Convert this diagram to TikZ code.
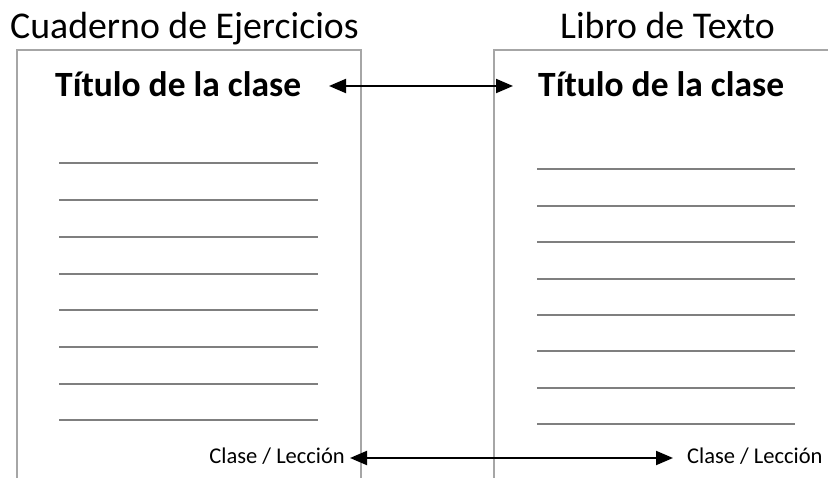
\documentclass[tikz,border=0pt]{standalone}
\usepackage{fontspec}
\setmainfont{Carlito}
\usetikzlibrary{arrows.meta}
\definecolor{boxgray}{HTML}{A6A6A6}
\definecolor{linegray}{HTML}{7F7F7F}
\tikzset{
  pagebox/.style={draw=boxgray, line width=1.2pt},
  ruled/.style={draw=linegray, line width=2.2pt},
  bigtitle/.style={anchor=base west, inner sep=0pt, font=\fontsize{37.8}{40}\selectfont},
  classtitle/.style={anchor=base west, inner sep=0pt, font=\fontsize{35.5}{38}\selectfont\bfseries},
  smalllabel/.style={inner sep=0pt, font=\fontsize{22.5}{24}\selectfont},
  link/.style={line width=2pt, {Triangle[length=17pt,width=14pt]}-{Triangle[length=17pt,width=14pt]}}
}
\begin{document}
\begin{tikzpicture}[x=1pt,y=-1pt]
\useasboundingbox (0,0) rectangle (828,478);
% page outlines
\draw[pagebox] (17,478) -- (17,50) -- (361,50) -- (361,478);
\draw[pagebox] (494,478) -- (494,50) -- (828,50);
% headings
\node[bigtitle] (hl) at (10,39) {Cuaderno de Ejercicios};
\node[bigtitle] (hr) at (560,39) {Libro de Texto};
\node[classtitle] (tl) at (55,97) {Título de la clase};
\node[classtitle] (tr) at (538,97) {Título de la clase};
% ruled lines
\foreach \y in {163,200,237,274,310,347,384,420} {
  \draw[ruled] (59,\y) -- (318,\y);
}
\foreach \y in {169,206,242,279,315,351,388,424} {
  \draw[ruled] (537,\y) -- (795,\y);
}
% bottom labels
\node[smalllabel, anchor=base east] (cl) at (345,464) {Clase / Lección};
\node[smalllabel, anchor=base west] (cr) at (687,464) {Clase / Lección};
% connectors
\coordinate (ta) at (329,86);
\coordinate (tb) at (513,86);
\draw[link] (ta) -- (tb);
\coordinate (ba) at ([xshift=5pt]cl.east |- 0,458);
\coordinate (bb) at ([xshift=-14pt]cr.west |- 0,458);
\draw[link] (ba) -- (bb);
\end{tikzpicture}
\end{document}
